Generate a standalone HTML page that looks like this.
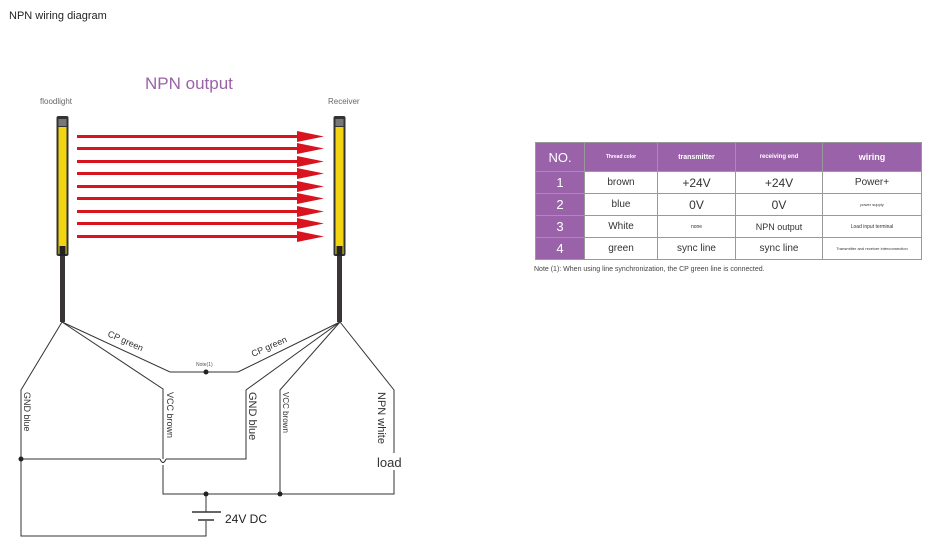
<!DOCTYPE html>
<html><head><style>
body{margin:0;background:#fff;font-family:"Liberation Sans",sans-serif;}
.t{position:absolute;left:535px;top:142px;border-collapse:collapse;font-size:10px;color:#333;}
.t td{border:1px solid #999;text-align:center;padding:0;height:21px;vertical-align:middle;}
.t tr:first-child td{height:28px;background:#9a62a8;color:#fff;font-weight:bold;}
.t td:first-child{background:#9a62a8;color:#fff;font-size:13px;font-weight:normal !important;}
</style></head><body>
<div style="position:absolute;left:9px;top:10px;font-size:11px;color:#222">NPN wiring diagram</div>
<svg width="940" height="548" style="position:absolute;left:0;top:0" font-family="Liberation Sans, sans-serif">
<text x="145" y="89" font-size="17" fill="#9a62a8">NPN output</text>
<text x="40" y="104" font-size="8" fill="#666">floodlight</text>
<text x="328" y="104" font-size="8" fill="#666">Receiver</text>
<g>
<rect x="56.5" y="116" width="12" height="140" rx="2" fill="#333"/>
<rect x="58.5" y="119" width="8" height="7" fill="#777"/>
<rect x="58.5" y="127" width="8" height="127" fill="#f2d410"/>
<rect x="59.5" y="246" width="6" height="10" fill="#222"/>
<rect x="60" y="256" width="5" height="66" fill="#3a3535"/>
<rect x="333.5" y="116" width="12" height="140" rx="2" fill="#333"/>
<rect x="335.5" y="119" width="8" height="7" fill="#777"/>
<rect x="335.5" y="127" width="8" height="127" fill="#f2d410"/>
<rect x="336.5" y="246" width="6" height="10" fill="#222"/>
<rect x="337" y="256" width="5" height="66" fill="#3a3535"/>
</g>
<g fill="#d9141e">
<rect x="77" y="135" width="225" height="3"/><polygon points="297,131 324,136.5 297,142"/>
<rect x="77" y="147" width="225" height="3"/><polygon points="297,143 324,148.5 297,154"/>
<rect x="77" y="160" width="225" height="3"/><polygon points="297,156 324,161.5 297,167"/>
<rect x="77" y="172" width="225" height="3"/><polygon points="297,168 324,173.5 297,179"/>
<rect x="77" y="185" width="225" height="3"/><polygon points="297,181 324,186.5 297,192"/>
<rect x="77" y="197" width="225" height="3"/><polygon points="297,193 324,198.5 297,204"/>
<rect x="77" y="210" width="225" height="3"/><polygon points="297,206 324,211.5 297,217"/>
<rect x="77" y="222" width="225" height="3"/><polygon points="297,218 324,223.5 297,229"/>
<rect x="77" y="235" width="225" height="3"/><polygon points="297,231 324,236.5 297,242"/>
</g>
<g stroke="#333" stroke-width="1" fill="none">
<polyline points="62,322 21,390 21,536 206,536 206,521"/>
<polyline points="62,322 163,389 163,459"/>
<polyline points="163,465 163,494 394,494 394,470"/>
<polyline points="62,322 170,372 238,372 340,322"/>
<polyline points="340,322 246,390 246,459 166,459"/>
<path d="M160,459 Q163,466 166,459"/>
<polyline points="160,459 21,459"/>
<polyline points="340,322 280,390 280,494"/>
<polyline points="340,322 394,390 394,453"/>
<line x1="206" y1="494" x2="206" y2="512"/>
<line x1="192" y1="512" x2="221" y2="512" stroke-width="1.5"/>
<line x1="198" y1="520" x2="214" y2="520" stroke-width="1.5"/>
</g>
<g fill="#222"><circle cx="206" cy="372" r="2.5"/><circle cx="21" cy="459" r="2.5"/><circle cx="206" cy="494" r="2.5"/><circle cx="280" cy="494" r="2.5"/></g>
<text x="196" y="366" font-size="5" fill="#555">Note(1)</text>
<text font-size="9" fill="#333" transform="translate(107,336) rotate(24)">CP green</text>
<text font-size="9" fill="#333" transform="translate(253,357) rotate(-24)">CP green</text>
<g font-size="9" fill="#333">
<text transform="translate(24,392) rotate(90)">GND blue</text>
<text transform="translate(167,392) rotate(90)">VCC brown</text>
<text font-size="11" transform="translate(249,392) rotate(90)">GND blue</text>
<text font-size="8" transform="translate(283,392) rotate(90)">VCC brown</text>
<text font-size="11" transform="translate(378,392) rotate(90)">NPN white</text>
</g>
<text x="377" y="467" font-size="13" fill="#333">load</text>
<text x="225" y="523" font-size="12" fill="#222">24V DC</text>
</svg>
<table class="t">
<tr><td style="width:48px;font-size:13px">NO.</td><td style="width:72px;font-size:5px">Thread color</td><td style="width:77px;font-size:7px">transmitter</td><td style="width:86px;font-size:6px">receiving end</td><td style="width:98px;font-size:9px">wiring</td></tr>
<tr><td>1</td><td>brown</td><td style="font-size:12px">+24V</td><td style="font-size:12px">+24V</td><td>Power+</td></tr>
<tr><td>2</td><td>blue</td><td style="font-size:12px">0V</td><td style="font-size:12px">0V</td><td style="font-size:4px">power supply</td></tr>
<tr><td>3</td><td>White</td><td style="font-size:5px">none</td><td style="font-size:9px">NPN output</td><td style="font-size:5px">Load input terminal</td></tr>
<tr><td>4</td><td>green</td><td>sync line</td><td>sync line</td><td style="font-size:4px">Transmitter and receiver interconnection</td></tr>
</table>
<div style="position:absolute;left:534px;top:266px;font-size:7px;color:#444">Note (1): When using line synchronization, the CP green line is connected.</div>
</body></html>
